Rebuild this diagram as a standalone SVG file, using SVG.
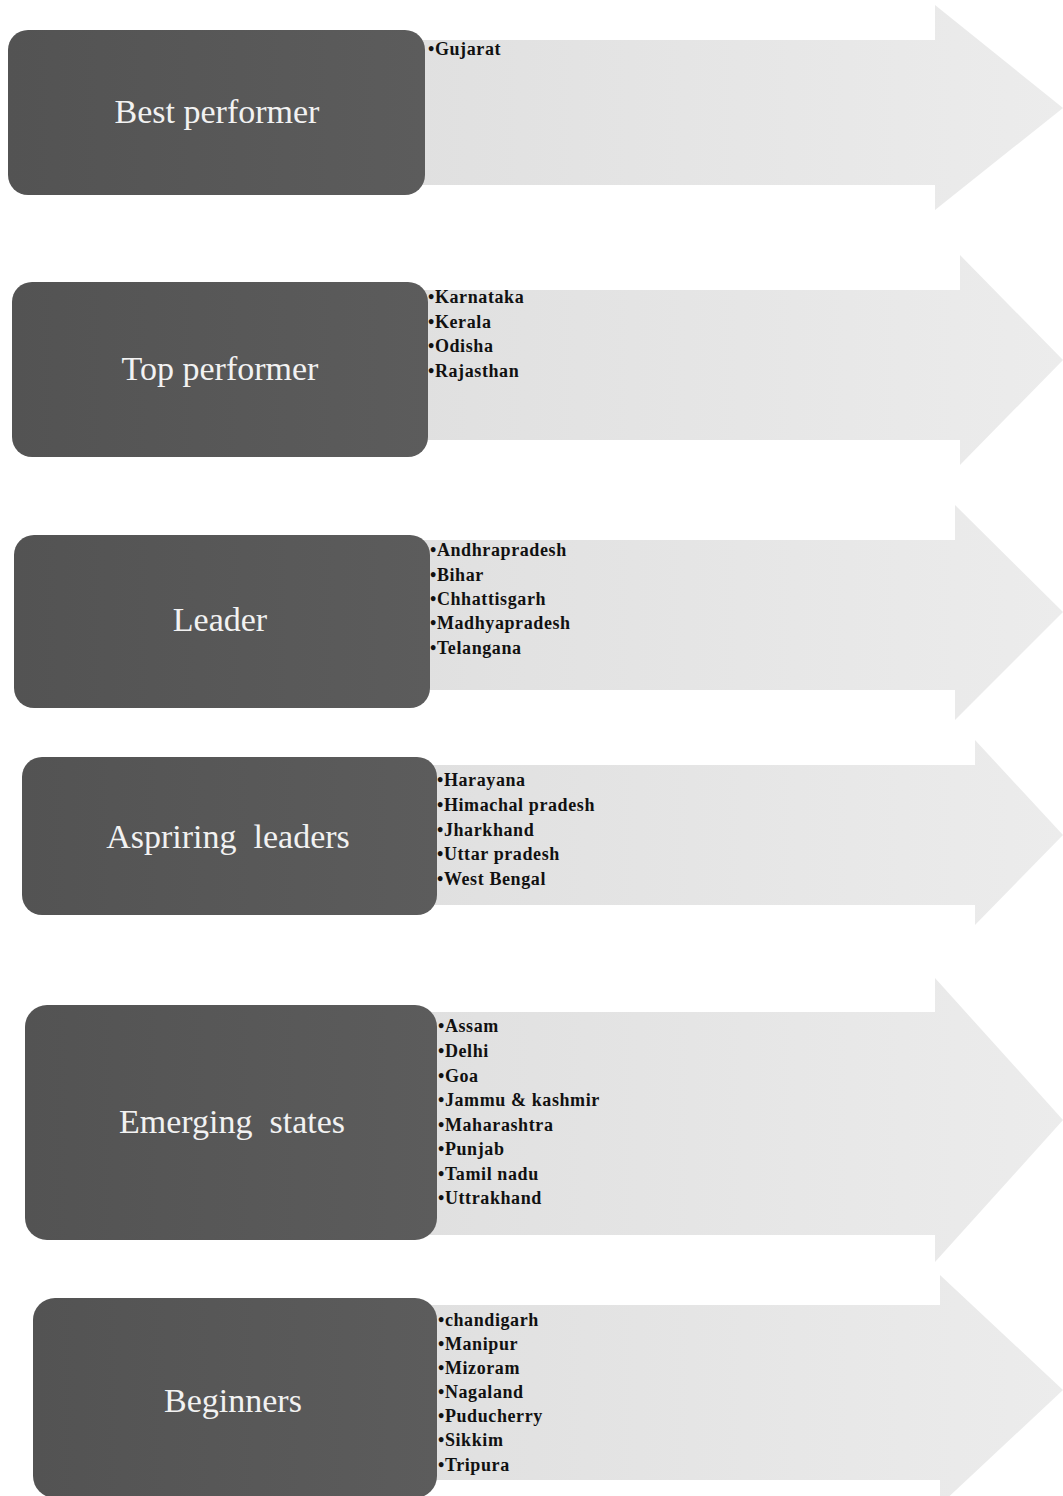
<svg xmlns="http://www.w3.org/2000/svg" width="1063" height="1496" viewBox="0 0 1063 1496">
<defs>
<linearGradient id="boxg" x1="0" y1="0" x2="1" y2="0">
<stop offset="0" stop-color="#535353"/>
<stop offset="1" stop-color="#5c5c5c"/>
</linearGradient>
<linearGradient id="arrg" x1="0" y1="0" x2="1" y2="0">
<stop offset="0" stop-color="#e0e0e0"/>
<stop offset="1" stop-color="#ececec"/>
</linearGradient>
</defs>
<style>
.box{fill:url(#boxg);}
.arr{fill:url(#arrg);}
.lbl{font-family:"Liberation Serif",serif;font-size:34px;fill:#f2f2f2;text-anchor:middle;}
.li{font-family:"Liberation Serif",serif;font-size:18px;font-weight:bold;fill:#111;letter-spacing:0.6px;}
</style>
<rect width="1063" height="1496" fill="#ffffff"/>
<g id="connectors">
<polygon class="arr" points="415,40 935,40 935,5 1063,108 935,210 935,185 415,185"/>
<polygon class="arr" points="418,290 960,290 960,255 1063,360 960,465 960,440 418,440"/>
<polygon class="arr" points="420,540 955,540 955,505 1063,612 955,720 955,690 420,690"/>
<polygon class="arr" points="427,765 975,765 975,740 1063,835 975,925 975,905 427,905"/>
<polygon class="arr" points="427,1012 935,1012 935,978 1063,1120 935,1262 935,1235 427,1235"/>
<polygon class="arr" points="427,1305 940,1305 940,1275 1063,1390 940,1505 940,1480 427,1480"/>
</g>
<g id="node-best">
<rect class="box" x="8" y="30" width="417" height="165" rx="20"/>
<text class="lbl" x="217" y="123">Best performer</text>
<text class="li" x="428" y="55">•Gujarat</text>
</g>
<g id="node-top">
<rect class="box" x="12" y="282" width="416" height="175" rx="20"/>
<text class="lbl" x="220" y="380">Top performer</text>
<text class="li" x="428" y="303">•Karnataka</text>
<text class="li" x="428" y="328">•Kerala</text>
<text class="li" x="428" y="352">•Odisha</text>
<text class="li" x="428" y="377">•Rajasthan</text>
</g>
<g id="node-leader">
<rect class="box" x="14" y="535" width="416" height="173" rx="20"/>
<text class="lbl" x="220" y="631">Leader</text>
<text class="li" x="430" y="556">•Andhrapradesh</text>
<text class="li" x="430" y="581">•Bihar</text>
<text class="li" x="430" y="605">•Chhattisgarh</text>
<text class="li" x="430" y="629">•Madhyapradesh</text>
<text class="li" x="430" y="654">•Telangana</text>
</g>
<g id="node-aspiring">
<rect class="box" x="22" y="757" width="415" height="158" rx="20"/>
<text class="lbl" x="228" y="848" xml:space="preserve">Aspriring  leaders</text>
<text class="li" x="437" y="786">•Harayana</text>
<text class="li" x="437" y="811">•Himachal pradesh</text>
<text class="li" x="437" y="836">•Jharkhand</text>
<text class="li" x="437" y="860">•Uttar pradesh</text>
<text class="li" x="437" y="885">•West Bengal</text>
</g>
<g id="node-emerging">
<rect class="box" x="25" y="1005" width="412" height="235" rx="22"/>
<text class="lbl" x="232" y="1133" xml:space="preserve">Emerging  states</text>
<text class="li" x="438" y="1032">•Assam</text>
<text class="li" x="438" y="1057">•Delhi</text>
<text class="li" x="438" y="1082">•Goa</text>
<text class="li" x="438" y="1106">•Jammu &amp; kashmir</text>
<text class="li" x="438" y="1131">•Maharashtra</text>
<text class="li" x="438" y="1155">•Punjab</text>
<text class="li" x="438" y="1180">•Tamil nadu</text>
<text class="li" x="438" y="1204">•Uttrakhand</text>
</g>
<g id="node-beginners">
<rect class="box" x="33" y="1298" width="404" height="200" rx="22"/>
<text class="lbl" x="233" y="1412">Beginners</text>
<text class="li" x="438" y="1326">•chandigarh</text>
<text class="li" x="438" y="1350">•Manipur</text>
<text class="li" x="438" y="1374">•Mizoram</text>
<text class="li" x="438" y="1398">•Nagaland</text>
<text class="li" x="438" y="1422">•Puducherry</text>
<text class="li" x="438" y="1446">•Sikkim</text>
<text class="li" x="438" y="1471">•Tripura</text>
</g>
</svg>
